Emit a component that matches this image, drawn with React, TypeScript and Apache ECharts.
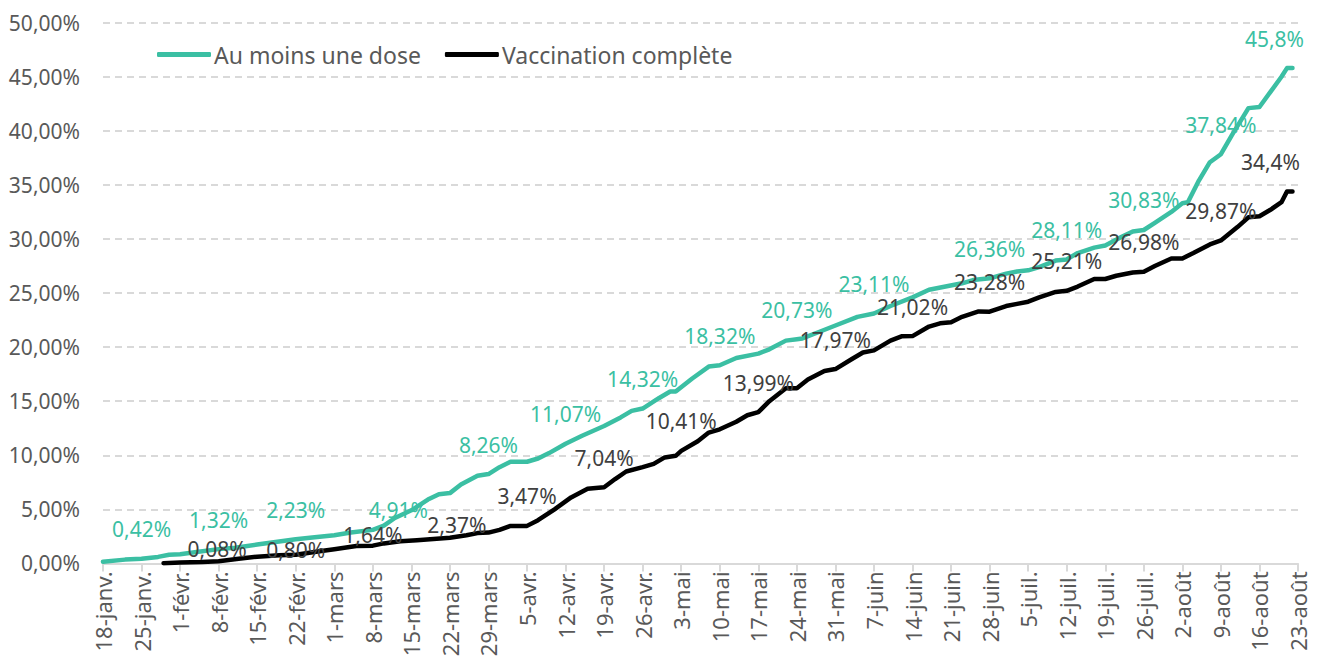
import React, { useEffect, useRef } from "react";
import * as echarts from "echarts";

// Weekly tick labels (one per 7 days starting 18 Jan)
const tickLabels = [
  "18-janv.", "25-janv.", "1-févr.", "8-févr.", "15-févr.", "22-févr.",
  "1-mars", "8-mars", "15-mars", "22-mars", "29-mars", "5-avr.", "12-avr.",
  "19-avr.", "26-avr.", "3-mai", "10-mai", "17-mai", "24-mai", "31-mai",
  "7-juin", "14-juin", "21-juin", "28-juin", "5-juil.", "12-juil.",
  "19-juil.", "26-juil.", "2-août", "9-août", "16-août", "23-août",
];

const seriesNames = ["Au moins une dose", "Vaccination complète"];

// Day offsets from 18 Jan and values (%) – "Au moins une dose"
const doseDays = [
  0, 4, 7, 10, 12, 14, 17, 21, 24, 28, 31, 35, 38, 42, 45, 49, 51, 53, 56, 59,
  61, 63, 65, 68, 70, 72, 74, 77, 79, 81, 84, 87, 91, 94, 96, 98, 101, 103, 104,
  107, 110, 112, 115, 119, 121, 124, 126, 127, 130, 133, 137, 140, 143, 147,
  150, 153, 156, 158, 161, 164, 166, 168, 170, 173, 175, 177, 180, 182, 185,
  187, 189, 191, 194, 196, 197, 199, 201, 203, 205, 208, 210, 212, 214, 215, 216,
];
const doseValues = [
  0.15, 0.35, 0.42, 0.6, 0.8, 0.85, 1.05, 1.32, 1.45, 1.75, 1.95, 2.23, 2.4,
  2.6, 2.85, 3.1, 3.5, 4.2, 4.91, 5.9, 6.4, 6.5, 7.3, 8.1, 8.26, 8.9, 9.4, 9.4,
  9.7, 10.2, 11.07, 11.8, 12.7, 13.5, 14.1, 14.32, 15.3, 15.9, 15.9, 17.1,
  18.2, 18.32, 19.0, 19.4, 19.8, 20.6, 20.73, 20.8, 21.4, 22.0, 22.8, 23.11,
  23.8, 24.6, 25.3, 25.6, 25.9, 26.2, 26.36, 26.8, 27.0, 27.1, 27.4, 28.0,
  28.11, 28.7, 29.2, 29.4, 30.2, 30.7, 30.83, 31.5, 32.5, 33.3, 33.4, 35.4,
  37.1, 37.84, 39.6, 42.1, 42.2, 43.6, 45.0, 45.8, 45.8,
];

// "Vaccination complète"
const completeDays = [
  11, 14, 18, 21, 25, 28, 32, 35, 39, 42, 46, 49, 51, 54, 57, 60, 63, 66, 68,
  70, 72, 74, 77, 79, 82, 85, 88, 91, 93, 95, 98, 100, 102, 104, 105, 108, 110,
  112, 115, 117, 119, 121, 124, 126, 128, 131, 133, 136, 138, 140, 143, 145,
  147, 150, 152, 154, 156, 159, 161, 164, 166, 168, 170, 173, 175, 177, 180,
  182, 184, 187, 189, 191, 194, 196, 198, 201, 203, 206, 208, 210, 212, 214,
  215, 216,
];
const completeValues = [
  0.02, 0.08, 0.12, 0.2, 0.45, 0.62, 0.75, 0.8, 1.1, 1.3, 1.6, 1.64, 1.85,
  2.05, 2.15, 2.25, 2.37, 2.6, 2.8, 2.85, 3.1, 3.47, 3.47, 4.0, 5.0, 6.1, 6.9,
  7.04, 7.8, 8.5, 8.9, 9.2, 9.8, 9.95, 10.41, 11.3, 12.1, 12.4, 13.1, 13.7,
  13.99, 15.0, 16.2, 16.2, 17.0, 17.8, 17.97, 18.9, 19.5, 19.7, 20.6, 21.0,
  21.02, 21.9, 22.2, 22.3, 22.8, 23.3, 23.28, 23.8, 24.0, 24.2, 24.6, 25.1,
  25.21, 25.6, 26.3, 26.3, 26.6, 26.9, 26.98, 27.5, 28.2, 28.2, 28.7, 29.5,
  29.87, 31.1, 32.0, 32.1, 32.7, 33.4, 34.4, 34.4,
];

// Data labels
const doseLabelDays = [7, 21, 35, 56, 70, 84, 98, 112, 126, 140, 161, 175, 189, 203, 216];
const doseLabelTexts = [
  "0,42%", "1,32%", "2,23%", "4,91%", "8,26%", "11,07%", "14,32%", "18,32%",
  "20,73%", "23,11%", "26,36%", "28,11%", "30,83%", "37,84%", "45,8%",
];
const completeLabelDays = [14, 35, 49, 63, 77, 91, 105, 119, 133, 147, 161, 175, 189, 203, 216];
const completeLabelTexts = [
  "0,08%", "0,80%", "1,64%", "2,37%", "3,47%", "7,04%", "10,41%", "13,99%",
  "17,97%", "21,02%", "23,28%", "25,21%", "26,98%", "29,87%", "34,4%",
];

const TEAL = "#3BBFA3";
const BLACK = "#000000";
const FONT = "'Noto Sans', 'Open Sans', sans-serif";

// label placement tweaks (style only)
const doseLabelOffsets: Record<number, number[]> = { 56: [-13, 29], 216: [-18, 0] };
const completeLabelOffsets: Record<number, number[]> = {
  14: [37, 16], 35: [0, 25], 49: [0, 19], 63: [7, 17], 216: [-22, 0],
};

function buildData(
  days: number[], values: number[], labelDays: number[], labelTexts: string[],
  offsets: Record<number, number[]>
) {
  return days.map((d, i) => {
    const li = labelDays.indexOf(d);
    if (li >= 0) {
      return {
        value: [d, values[i]],
        label: { show: true, formatter: labelTexts[li], offset: offsets[d] || [0, 0] },
      };
    }
    return { value: [d, values[i]] };
  });
}

export default function App() {
  const ref = useRef<HTMLDivElement>(null);
  useEffect(() => {
    if (!ref.current) return;
    const chart = echarts.init(ref.current, null, { renderer: "svg" });
    const labelBase = {
      show: false,
      position: "top",
      distance: 19,
      fontSize: 21,
      fontFamily: FONT,
    };
    chart.setOption({
      animation: false,
      textStyle: { fontFamily: FONT },
      grid: {
        left: 103, right: 23, top: 22.7, bottom: 95.6,
        containLabel: false, outerBoundsMode: "none",
      },
      legend: {
        left: 152,
        top: 38,
        itemWidth: 54,
        itemHeight: 5,
        itemGap: 24,
        icon: "roundRect",
        textStyle: { fontSize: 23, color: "#595959", fontFamily: FONT, padding: [0, 0, 0, -2] },
        data: [
          { name: seriesNames[0], itemStyle: { color: TEAL } },
          { name: seriesNames[1], itemStyle: { color: BLACK } },
        ],
      },
      xAxis: {
        type: "value",
        min: 0,
        max: 217,
        interval: 7,
        axisLine: { show: true, lineStyle: { color: "#D9D9D9", width: 2 } },
        axisTick: { show: true, length: 8, lineStyle: { color: "#D9D9D9", width: 2 } },
        splitLine: { show: false },
        axisLabel: {
          rotate: 90,
          margin: 8,
          fontSize: 22,
          color: "#595959",
          fontFamily: FONT,
          formatter: (v: number) => tickLabels[Math.round(v / 7)] || "",
        },
      },
      yAxis: {
        type: "value",
        min: 0,
        max: 50,
        interval: 5,
        axisLine: { show: false },
        axisTick: { show: false },
        splitLine: { lineStyle: { color: "#D9D9D9", width: 2, type: [7, 5] } },
        axisLabel: {
          margin: 23,
          fontSize: 21,
          color: "#595959",
          fontFamily: FONT,
          formatter: (v: number) => v.toFixed(2).replace(".", ",") + "%",
        },
      },
      series: [
        {
          name: seriesNames[0],
          type: "line",
          showSymbol: true,
          symbol: "circle",
          symbolSize: 0.1,
          itemStyle: { color: TEAL },
          lineStyle: { color: TEAL, width: 4.5, cap: "round", join: "round" },
          label: { ...labelBase, color: TEAL },
          data: buildData(doseDays, doseValues, doseLabelDays, doseLabelTexts, doseLabelOffsets),
          z: 3,
        },
        {
          name: seriesNames[1],
          type: "line",
          showSymbol: true,
          symbol: "circle",
          symbolSize: 0.1,
          itemStyle: { color: BLACK },
          lineStyle: { color: BLACK, width: 4.5, cap: "round", join: "round" },
          label: { ...labelBase, color: "#404040" },
          data: buildData(completeDays, completeValues, completeLabelDays, completeLabelTexts, completeLabelOffsets),
          z: 4,
        },
      ],
    });
    return () => chart.dispose();
  }, []);
  return (
    <div
      ref={ref}
      style={{ position: "absolute", left: 0, top: 0, width: 1321, height: 659, background: "#fff" }}
    />
  );
}
